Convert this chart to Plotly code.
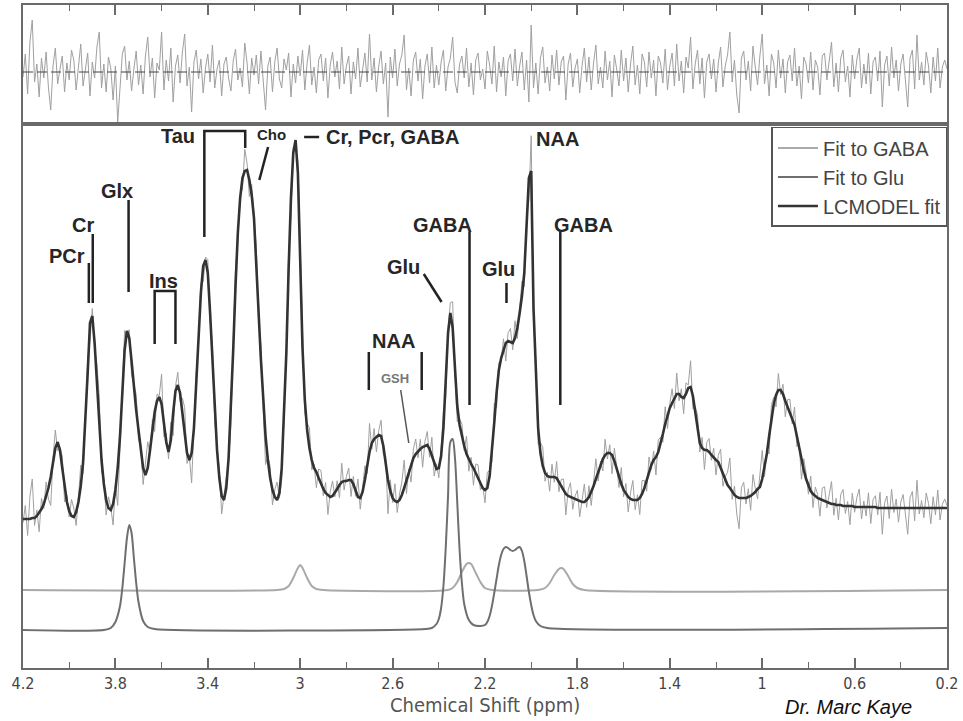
import numpy as np
import plotly.graph_objects as go

# ---------------- data ----------------
# chemical-shift grid of the spectrum, 4.20 -> 0.20 ppm in 0.01 ppm steps
PPM = np.round(np.linspace(4.2, 0.2, 401), 2)

# LCModel fit (arbitrary units), one row per 0.1 ppm, starting at 4.20
LCMODEL_FIT = [
    149, 149, 149, 149, 150, 150, 152, 155, 159, 164,   # 4.20
    171, 180, 191, 205, 220, 226, 218, 200, 181, 166,   # 4.10
    157, 152, 151, 156, 166, 182, 205, 245, 295, 345,   # 4.00
    352, 325, 285, 242, 208, 184, 168, 160, 158, 164,   # 3.90
    178, 200, 232, 275, 318, 337, 330, 307, 280, 258,   # 3.80
    238, 218, 200, 193, 200, 218, 238, 256, 267, 271,   # 3.70
    264, 245, 226, 216, 228, 255, 277, 283, 275, 255,   # 3.60
    232, 215, 208, 215, 240, 280, 330, 375, 402, 408,   # 3.50
    395, 355, 305, 258, 218, 190, 172, 168, 180, 210,   # 3.40
    258, 318, 382, 435, 470, 490, 497, 498, 488, 473,   # 3.30
    450, 408, 355, 308, 265, 232, 208, 190, 178, 171,   # 3.20
    168, 175, 200, 250, 315, 400, 470, 515, 528, 495,   # 3.10
    410, 320, 268, 238, 220, 208, 200, 196, 190, 184,   # 3.00
    179, 175, 173, 171, 172, 175, 179, 183, 186, 187,   # 2.90
    187, 188, 188, 184, 177, 171, 170, 176, 188, 202,   # 2.80
    216, 225, 229, 231, 233, 232, 222, 205, 188, 177,   # 2.70
    170, 167, 166, 168, 173, 180, 188, 196, 204, 210,   # 2.60
    214, 217, 219, 221, 222, 223, 219, 212, 204, 199,   # 2.50
    200, 212, 240, 285, 335, 355, 340, 300, 262, 243,   # 2.40
    232, 222, 214, 208, 204, 200, 195, 189, 184, 180,   # 2.30
    178, 180, 192, 215, 245, 275, 298, 310, 318, 325,   # 2.20
    327, 326, 325, 330, 340, 355, 372, 395, 440, 490,   # 2.10
    497, 360, 300, 240, 215, 202, 195, 192, 191, 191,   # 2.00
    191, 190, 186, 181, 177, 174, 172, 171, 170, 169,   # 1.90
    168, 167, 166, 166, 168, 171, 176, 182, 189, 196,   # 1.80
    203, 209, 213, 215, 215, 213, 207, 199, 191, 184,   # 1.70
    178, 174, 171, 169, 168, 168, 168, 170, 174, 180,   # 1.60
    188, 196, 203, 208, 211, 216, 224, 234, 244, 253,   # 1.50
    260, 265, 270, 274, 274, 271, 270, 274, 280, 281,   # 1.40
    272, 255, 237, 225, 220, 218, 218, 216, 213, 210,   # 1.30
    208, 206, 200, 193, 187, 183, 180, 176, 173, 171,   # 1.20
    170, 170, 170, 170, 171, 172, 174, 176, 179, 181,   # 1.10
    189, 200, 214, 232, 250, 264, 273, 278, 278, 274,   # 1.00
    267, 261, 256, 251, 243, 232, 220, 209, 198, 189,   # 0.90
    182, 177, 174, 172, 170, 169, 168, 167, 166, 165,   # 0.80
    164, 164, 163, 163, 163, 162, 162, 162, 162, 162,   # 0.70
    161, 161, 161, 161, 161, 161, 161, 161, 161, 161,   # 0.60
    160, 160, 160, 160, 160, 160, 160, 160, 160, 160,   # 0.50
    160, 160, 160, 160, 160, 160, 160, 160, 160, 160,   # 0.40
    160, 160, 160, 160, 160, 160, 160, 160, 160, 160,   # 0.30
    160,                                                # 0.20
]

# fit residual (noise), same grid
NOISE = [
    -5, 18, -22, 30, 52, -10, 8, -25, 14, -6,
    20, -15, -38, 6, 24, -12, 3, 16, -20, 9,
    -8, 22, 12, -18, 5, 28, -14, 2, 19, -24,
    10, -6, 25, 40, -16, 8, -20, 15, 4, -28,
    6, -50, -12, 18, 26, -8, 11, -19, 3, 21,
    -13, 7, -22, 16, 35, -5, 14, -26, 9, 2,
    40, -18, 12, -9, 24, -30, 6, 17, -11, 20,
    38, -14, 5, -40, 10, 22, -7, 13, -21, 4,
    18, -10, 27, -16, 3, 12, -24, 8, 15, -6,
    -19, 11, 23, -8, 4, -15, 29, 9, -22, 14,
    -3, 17, -12, 21, -9, -38, 6, 15, -20, 10,
    24, -7, -16, 13, 2, 19, -25, 8, -11, 16,
    -4, 22, -18, 9, 27, -13, 5, -21, 12, 18,
    -9, 14, -26, 7, 20, -5, 11, -17, 25, -12,
    6, 16, -22, 10, -7, 24, -15, 3, 19, -10,
    38, -8, 14, -20, 6, 21, -12, 9, -45, 15,
    -6, 23, -14, 8, 17, 37, -18, 4, -24, 12,
    20, -9, 13, -27, 6, 18, -11, 25, -16, 7,
    -13, 10, 22, -19, 5, 14, 35, -10, -21, 8,
    16, -6, 24, -15, 9, -23, 12, 19, -8, 3,
    -17, 21, 7, -12, 26, -20, 10, -5, 15, -24,
    11, 18, -9, 23, -14, 6, 20, -18, 12, -30,
    47, -16, 9, -22, 14, 25, -11, 5, -19, 17,
    -7, 22, -13, 10, 16, -28, 8, 19, -15, 4,
    13, -21, 6, 24, -10, 15, -18, 9, 27, -12,
    5, -16, 21, -8, 11, -25, 17, 3, -14, 22,
    -9, 14, -20, 8, 26, -13, 7, -22, 18, 10,
    -15, 20, -6, 12, -24, 16, 9, -11, 23, -18,
    6, 19, -14, 28, -9, 11, -21, 15, 4, 35,
    -17, 8, 22, -12, 14, -26, 10, 18, -7, 13,
    -20, 9, 25, -15, 6, 17, 40, -10, 12, -23,
    -41, 14, 21, -8, 11, -19, 26, 5, -13, 16,
    38, -12, 7, -24, 18, 9, -16, 22, -6, 13,
    -21, 10, 17, -9, 24, -14, 6, -27, 15, 8,
    -11, 20, -18, 12, 5, -23, 16, 19, -8, 11,
    30, -15, 9, -20, 14, 22, -10, 6, -25, 17,
    -7, 13, 24, -16, 8, -12, 19, -22, 10, 15,
    -9, 21, -35, 7, 16, -14, 25, -6, 12, -19,
    8, 18, -11, -35, 14, 22, -17, 37, -8, 10,
    -13, 20, 6, -21, 15, -9, 24, -16, 5, 12,
    3,
]
NOISE_SCALE = 0.75   # residual panel is shown magnified

# single-metabolite fits (own sample points)
GABA_PPM = [4.20, 3.10, 3.07, 3.05, 3.03, 3.01, 3.00, 2.99, 2.97, 2.95, 2.93, 2.90,
            2.36, 2.34, 2.32, 2.30, 2.28, 2.27, 2.26, 2.24, 2.22, 2.20, 2.17,
            1.97, 1.94, 1.92, 1.90, 1.88, 1.87, 1.86, 1.84, 1.82, 1.80, 1.77, 0.20]
GABA_FIT = [78, 78, 79, 82, 90, 100, 103, 100, 90, 82, 79, 78,
            78, 80, 86, 96, 104, 105, 104, 95, 86, 80, 78,
            78, 80, 85, 93, 99, 100, 99, 92, 84, 80, 78, 78]

GLU_PPM = [4.20, 3.85, 3.82, 3.80, 3.78, 3.77, 3.76, 3.75, 3.74, 3.73, 3.72, 3.71,
           3.70, 3.68, 3.66, 3.63, 2.46, 2.43, 2.41, 2.40, 2.39, 2.38, 2.37, 2.36,
           2.35, 2.34, 2.33, 2.32, 2.31, 2.30, 2.29, 2.27, 2.25, 2.22, 2.20, 2.19,
           2.18, 2.17, 2.16, 2.15, 2.14, 2.13, 2.12, 2.11, 2.10, 2.09, 2.08, 2.07,
           2.06, 2.05, 2.04, 2.03, 2.02, 2.01, 2.00, 1.99, 1.98, 1.96, 1.93, 0.20]
GLU_FIT = [38, 38, 40, 46, 62, 80, 105, 130, 143, 135, 110, 85,
           66, 47, 41, 39, 39, 40, 44, 49, 60, 82, 120, 172,
           226, 229, 210, 165, 118, 85, 64, 48, 43, 42, 43, 46,
           52, 62, 75, 89, 103, 113, 119, 121, 120, 118, 117, 118,
           120, 121, 117, 107, 92, 76, 63, 53, 47, 42, 40, 40]

TICK_VALS = [4.2, 3.8, 3.4, 3.0, 2.6, 2.2, 1.8, 1.4, 1.0, 0.6, 0.2]
TICK_TEXT = ["4.2", "3.8", "3.4", "3", "2.6", "2.2", "1.8", "1.4", "1", "0.6", "0.2"]
MINOR_VALS = [4.0, 3.6, 3.2, 2.8, 2.4, 2.0, 1.6, 1.2, 0.8, 0.4]

# metabolite labels: text, ppm, height, x-anchor, font size
LABELS = [
    ("Tau", 3.445, 532, "right", 20),
    ("Cho", 3.126, 534, "center", 15),
    ("Cr, Pcr, GABA", 2.897, 531, "left", 20),
    ("Glx", 3.794, 477, "center", 20),
    ("Cr", 3.941, 443, "center", 20),
    ("PCr", 4.010, 412, "center", 20),
    ("Ins", 3.592, 387, "center", 20),
    ("GABA", 2.383, 443, "center", 20),
    ("Glu", 2.552, 401, "center", 20),
    ("NAA", 2.595, 327, "center", 20),
    ("NAA", 1.887, 529, "center", 20),
    ("GABA", 1.775, 443, "center", 20),
    ("Glu", 2.142, 399, "center", 20),
]
# label pointer lines (ppm, height) polylines
POINTERS = [
    [(3.415, 431), (3.415, 537), (3.238, 537), (3.238, 520)],   # Tau / Cho bracket
    [(3.139, 521), (3.177, 488)],                              # Cho
    [(2.983, 531), (2.918, 531)],                              # Cr, Pcr, GABA
    [(3.743, 468), (3.743, 376)],                              # Glx
    [(3.898, 434), (3.898, 365)],                              # Cr
    [(3.915, 405), (3.915, 365)],                              # PCr
    [(3.630, 324), (3.630, 377), (3.540, 377), (3.540, 324)],   # Ins bracket
    [(2.267, 436), (2.267, 263)],                              # GABA 2.28
    [(2.465, 394), (2.388, 366)],                              # Glu 2.35
    [(2.703, 316), (2.703, 278)],                              # NAA bar left
    [(2.474, 316), (2.474, 278)],                              # NAA bar right
    [(1.874, 436), (1.874, 263)],                              # GABA 1.89
    [(2.107, 385), (2.107, 365)],                              # Glu 2.1
]

# ---------------- derived series ----------------
fit = np.array(LCMODEL_FIT, dtype=float)
noise = np.array(NOISE, dtype=float)
data = fit + NOISE_SCALE * noise
resid = data - fit

FONT = "Liberation Sans, Arial, Helvetica, sans-serif"
NARROW = "Liberation Sans Narrow, Arial Narrow, DejaVu Sans Condensed, Liberation Sans, sans-serif"
FRAME = "#6a6a6a"

fig = go.Figure()
fig.add_trace(go.Scatter(x=PPM, y=data, mode="lines", showlegend=False,
                         line=dict(color="#a0a0a0", width=1), hoverinfo="skip"))
fig.add_trace(go.Scatter(x=GABA_PPM, y=GABA_FIT, mode="lines", name="Fit to GABA",
                         line=dict(color="#a9a9a9", width=2, shape="spline", smoothing=0.8)))
fig.add_trace(go.Scatter(x=GLU_PPM, y=GLU_FIT, mode="lines", name="Fit to Glu",
                         line=dict(color="#6f6f6f", width=2, shape="spline", smoothing=0.8)))
fig.add_trace(go.Scatter(x=PPM, y=fit, mode="lines", name="LCMODEL fit",
                         line=dict(color="#333333", width=2.6)))
fig.add_trace(go.Scatter(x=PPM, y=resid, mode="lines", showlegend=False,
                         xaxis="x2", yaxis="y2",
                         line=dict(color="#a0a0a0", width=1)))

MAIN_TOP = 0.8205
axis_common = dict(range=[4.2, 0.2], showline=True, linecolor=FRAME, linewidth=1.5,
                   mirror=True, showgrid=False, zeroline=False,
                   tickvals=TICK_VALS, ticktext=TICK_TEXT,
                   ticks="inside", ticklen=10, tickwidth=1.5, tickcolor=FRAME,
                   minor=dict(tickvals=MINOR_VALS, ticks="inside", ticklen=6,
                              tickwidth=1.2, tickcolor=FRAME))

fig.update_layout(
    width=963, height=721,
    margin=dict(l=23, r=13, t=5, b=53),
    paper_bgcolor="white", plot_bgcolor="white",
    xaxis=dict(domain=[0, 1], anchor="y",
               tickfont=dict(family=NARROW, size=16, color="#444444"),
               **axis_common),
    yaxis=dict(domain=[0, MAIN_TOP], range=[0, 544], anchor="x",
               showline=True, linecolor=FRAME, linewidth=1.5, mirror=True,
               showticklabels=False, ticks="", showgrid=False, zeroline=False),
    xaxis2=dict(domain=[0, 1], anchor="y2", side="top", showticklabels=False,
                **axis_common),
    yaxis2=dict(domain=[MAIN_TOP, 1], range=[-52 * NOISE_SCALE, 67 * NOISE_SCALE],
                anchor="x2", showline=True, linecolor=FRAME, linewidth=1.5, mirror=True,
                showticklabels=False, ticks="", showgrid=False, zeroline=False),
    legend=dict(x=0.81, y=0.816, xanchor="left", yanchor="top",
                bgcolor="white", bordercolor="#555555", borderwidth=1.5,
                font=dict(family=FONT, size=20, color="#444444"),
                itemwidth=40, tracegroupgap=0),
    showlegend=True,
)

# dashed zero line of the residual panel
fig.add_shape(type="line", xref="x2 domain", yref="y2", x0=0, x1=1, y0=0, y1=0,
              line=dict(color="#444444", width=1.2, dash="10px,4px"))

# label pointer lines
for pts in POINTERS:
    path = "M " + " L ".join(f"{p},{h}" for p, h in pts)
    fig.add_shape(type="path", path=path, xref="x", yref="y",
                  line=dict(color="#222222", width=2.5))
# GSH pointer (thinner)
fig.add_shape(type="line", xref="x", yref="y", x0=2.565, y0=278, x1=2.530, y1=225,
              line=dict(color="#555555", width=1.5))

for text, p, h, anchor, size in LABELS:
    fig.add_annotation(x=p, y=h, xref="x", yref="y", text=f"<b>{text}</b>",
                       showarrow=False, xanchor=anchor, yanchor="middle",
                       font=dict(family=FONT, size=size, color="#262626"))
fig.add_annotation(x=2.591, y=290, xref="x", yref="y", text="<b>GSH</b>", showarrow=False,
                   font=dict(family=FONT, size=13, color="#777777"))

# axis title and credit
fig.add_annotation(x=0.5, y=-0.0769, xref="paper", yref="paper",
                   text="Chemical Shift (ppm)", showarrow=False, yanchor="bottom",
                   font=dict(family=NARROW, size=20, color="#555555"))
fig.add_annotation(x=0.822, y=-0.0784, xref="paper", yref="paper",
                   text="<i>Dr. Marc Kaye</i>", showarrow=False,
                   xanchor="left", yanchor="bottom",
                   font=dict(family=FONT, size=20, color="#111111"))

fig.write_html("out.html")
